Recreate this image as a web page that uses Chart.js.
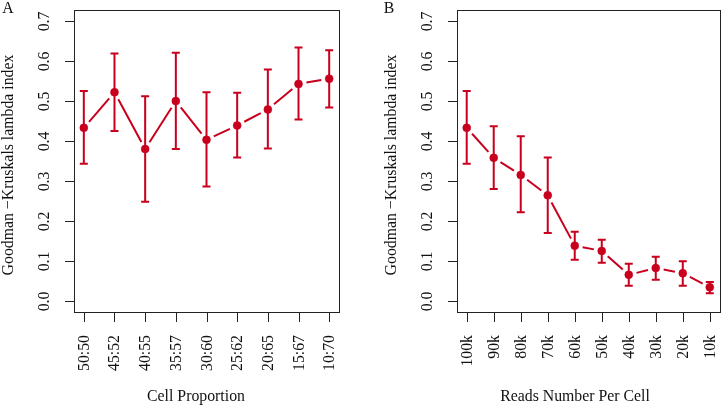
<!DOCTYPE html>
<html>
<head>
<meta charset="utf-8">
<script src="https://cdn.jsdelivr.net/npm/chart.js@4/dist/chart.umd.min.js"></script>
<style>
  html, body { margin: 0; padding: 0; background: #fff; }
  #wrap { position: relative; width: 724px; height: 408px; overflow: hidden; }
  canvas { position: absolute; top: 0; }
</style>
</head>
<body>
<div id="wrap">
  <canvas id="cA" width="362" height="408" style="left:0px"></canvas>
  <canvas id="cB" width="362" height="408" style="left:362px"></canvas>
</div>
<script>
// ---- data ----
const catsA = ['50:50', '45:52', '40:55', '35:57', '30:60', '25:62', '20:65', '15:67', '10:70'];
const meanA = [0.433, 0.522, 0.380, 0.500, 0.403, 0.439, 0.479, 0.543, 0.556];
const upperA = [0.525, 0.619, 0.512, 0.621, 0.522, 0.521, 0.579, 0.634, 0.627];
const lowerA = [0.343, 0.425, 0.248, 0.380, 0.286, 0.359, 0.381, 0.454, 0.484];

const catsB = ['100k', '90k', '80k', '70k', '60k', '50k', '40k', '30k', '20k', '10k'];
const meanB = [0.433, 0.358, 0.315, 0.264, 0.138, 0.125, 0.065, 0.082, 0.069, 0.034];
const upperB = [0.525, 0.437, 0.412, 0.359, 0.173, 0.153, 0.093, 0.110, 0.099, 0.047];
const lowerB = [0.343, 0.280, 0.222, 0.170, 0.103, 0.095, 0.038, 0.053, 0.038, 0.019];

const yTicks = [0.0, 0.1, 0.2, 0.3, 0.4, 0.5, 0.6, 0.7];
const yTickLabels = ['0.0', '0.1', '0.2', '0.3', '0.4', '0.5', '0.6', '0.7'];
const yTitle = 'Goodman \u2212Kruskals lambda index';
const xTitleA = 'Cell Proportion';
const xTitleB = 'Reads Number Per Cell';

const RED = '#c8001e';
const FONT = '15.8px "Liberation Serif", "Times New Roman", serif';

function rPlugin(o) {
  return {
    id: 'rstyle',
    beforeDatasetsDraw(chart) {
      const ctx = chart.ctx;
      const ys = chart.scales.y;
      const pts = chart.getDatasetMeta(0).data;
      ctx.save();
      ctx.strokeStyle = RED;
      ctx.lineWidth = 2;
      ctx.lineCap = 'butt';
      // error bars
      for (let i = 0; i < pts.length; i++) {
        const x = pts[i].x;
        const yt = ys.getPixelForValue(o.upper[i]);
        const yb = ys.getPixelForValue(o.lower[i]);
        ctx.beginPath();
        ctx.moveTo(x, yt); ctx.lineTo(x, yb);
        ctx.moveTo(x - 4, yt); ctx.lineTo(x + 4, yt);
        ctx.moveTo(x - 4, yb); ctx.lineTo(x + 4, yb);
        ctx.stroke();
      }
      // connecting line with gaps (type = "b")
      const gap = 8;
      for (let i = 0; i < pts.length - 1; i++) {
        const x1 = pts[i].x, y1 = pts[i].y, x2 = pts[i + 1].x, y2 = pts[i + 1].y;
        const dx = x2 - x1, dy = y2 - y1, len = Math.hypot(dx, dy);
        if (len <= 2 * gap) continue;
        const ux = dx / len, uy = dy / len;
        ctx.beginPath();
        ctx.moveTo(x1 + ux * gap, y1 + uy * gap);
        ctx.lineTo(x2 - ux * gap, y2 - uy * gap);
        ctx.stroke();
      }
      ctx.restore();
    },
    afterDraw(chart) {
      const ctx = chart.ctx;
      const a = chart.chartArea;
      const xs = chart.scales.x, ys = chart.scales.y;
      ctx.save();
      ctx.strokeStyle = '#222';
      ctx.lineWidth = 1;
      ctx.strokeRect(Math.round(a.left) + 0.5, Math.round(a.top) + 0.5,
                     Math.round(a.right - a.left), Math.round(a.bottom - a.top));
      ctx.fillStyle = '#111';
      ctx.font = FONT;
      // y ticks
      for (let i = 0; i < yTicks.length; i++) {
        const y = Math.round(ys.getPixelForValue(yTicks[i])) + 0.5;
        ctx.beginPath();
        ctx.moveTo(a.left - 9, y); ctx.lineTo(a.left, y);
        ctx.stroke();
        ctx.save();
        ctx.translate(a.left - 29, y);
        ctx.rotate(-Math.PI / 2);
        ctx.textAlign = 'center';
        ctx.textBaseline = 'middle';
        ctx.fillText(yTickLabels[i], 0, 0);
        ctx.restore();
      }
      // x ticks
      for (let i = 0; i < o.cats.length; i++) {
        const x = Math.round(xs.getPixelForValue(i + 1)) + 0.5;
        ctx.beginPath();
        ctx.moveTo(x, a.bottom); ctx.lineTo(x, a.bottom + 10);
        ctx.stroke();
        ctx.save();
        ctx.translate(x, a.bottom + 23);
        ctx.rotate(-Math.PI / 2);
        ctx.textAlign = 'right';
        ctx.textBaseline = 'middle';
        ctx.fillText(o.cats[i], 0, 0);
        ctx.restore();
      }
      // y title
      ctx.save();
      ctx.translate(a.left - 65, 165);
      ctx.rotate(-Math.PI / 2);
      ctx.textAlign = 'center';
      ctx.textBaseline = 'middle';
      ctx.fillText(yTitle, 0, 0);
      ctx.restore();
      // x title
      ctx.textAlign = 'center';
      ctx.textBaseline = 'middle';
      ctx.fillText(o.xTitle, o.xTitleX, 397);
      // panel letter
      ctx.fillText(o.letter, o.letterX, 9);
      ctx.restore();
    }
  };
}

function makeChart(id, cats, mean, upper, lower, pad, xTitle, xTitleX, letter, letterX) {
  const n = cats.length;
  const ext = (n - 1) * 0.04;
  return new Chart(document.getElementById(id), {
    type: 'line',
    data: {
      datasets: [{
        data: mean.map((v, i) => ({ x: i + 1, y: v })),
        showLine: false,
        pointRadius: 4,
        pointBorderWidth: 0.5,
        pointBackgroundColor: RED,
        pointBorderColor: RED,
        pointHoverRadius: 4
      }]
    },
    options: {
      responsive: false,
      animation: false,
      devicePixelRatio: 1,
      events: [],
      layout: { padding: pad },
      plugins: { legend: { display: false }, tooltip: { enabled: false }, title: { display: false } },
      scales: {
        x: { type: 'linear', display: false, min: 1 - ext, max: n + ext },
        y: { type: 'linear', display: false, min: -0.028, max: 0.728 }
      }
    },
    plugins: [rPlugin({ upper, lower, cats, xTitle, xTitleX, letter, letterX })]
  });
}

makeChart('cA', catsA, meanA, upperA, lowerA,
  { left: 74, right: 23, top: 10, bottom: 96 }, xTitleA, 196, 'A', 8);
makeChart('cB', catsB, meanB, upperB, lowerB,
  { left: 95, right: 3, top: 10, bottom: 96 }, xTitleB, 213, 'B', 27);
</script>
</body>
</html>
